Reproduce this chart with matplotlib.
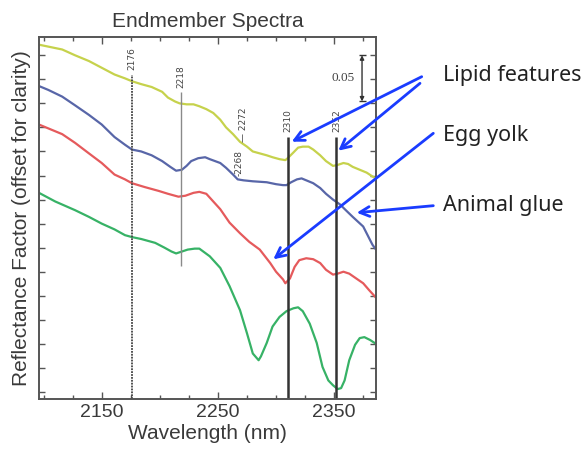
import matplotlib.pyplot as plt
from matplotlib.ticker import FixedLocator, MultipleLocator, NullFormatter

plt.rcParams['font.family'] = ['Liberation Sans', 'DejaVu Sans']

# wavelength (nm) / reflectance factor (offset)
wl_yellow = [2096, 2104, 2116, 2127, 2139, 2150, 2161, 2170, 2176, 2184, 2193, 2202, 2207,
             2213, 2217, 2223, 2229, 2234, 2240, 2246, 2252, 2257, 2263, 2269, 2275, 2280,
             2286, 2292, 2297, 2303, 2308, 2310, 2315, 2319, 2323, 2328, 2332, 2338, 2343,
             2349, 2353, 2358, 2362, 2366, 2372, 2378, 2383, 2386]
yellow = [0.361, 0.359, 0.356, 0.350, 0.344, 0.337, 0.330, 0.326, 0.323, 0.320, 0.317, 0.312, 0.306,
          0.302, 0.300, 0.299, 0.299, 0.297, 0.294, 0.290, 0.283, 0.275, 0.268, 0.260, 0.255, 0.250,
          0.248, 0.246, 0.244, 0.242, 0.241, 0.243, 0.249, 0.254, 0.255, 0.255, 0.252, 0.246, 0.240,
          0.235, 0.236, 0.238, 0.237, 0.234, 0.231, 0.228, 0.224, 0.222]

wl_blue = [2096, 2104, 2116, 2127, 2139, 2150, 2161, 2170, 2176, 2184, 2193, 2202, 2209,
           2214, 2219, 2223, 2227, 2233, 2239, 2243, 2252, 2257, 2263, 2267, 2272, 2280,
           2292, 2300, 2306, 2309, 2313, 2318, 2322, 2326, 2332, 2338, 2343, 2349, 2355,
           2360, 2366, 2375, 2383, 2386]
blue = [0.318, 0.314, 0.307, 0.298, 0.288, 0.278, 0.265, 0.257, 0.252, 0.250, 0.246, 0.240, 0.234,
        0.230, 0.231, 0.235, 0.240, 0.243, 0.244, 0.242, 0.238, 0.233, 0.226, 0.221, 0.220, 0.219,
        0.218, 0.216, 0.215, 0.215, 0.218, 0.221, 0.222, 0.220, 0.217, 0.212, 0.206, 0.200, 0.195,
        0.189, 0.182, 0.172, 0.153, 0.148]

wl_red = [2096, 2104, 2116, 2127, 2139, 2150, 2161, 2170, 2176, 2187, 2199, 2207, 2216,
          2222, 2229, 2234, 2240, 2243, 2252, 2260, 2269, 2277, 2286, 2295, 2300, 2306,
          2308, 2312, 2316, 2320, 2326, 2332, 2338, 2343, 2349, 2353, 2358, 2363, 2369,
          2375, 2380, 2386]
red = [0.278, 0.274, 0.268, 0.259, 0.248, 0.238, 0.226, 0.221, 0.217, 0.213, 0.209, 0.206, 0.203,
       0.204, 0.207, 0.208, 0.206, 0.202, 0.190, 0.176, 0.165, 0.156, 0.148, 0.134, 0.125, 0.117,
       0.113, 0.118, 0.130, 0.137, 0.139, 0.138, 0.134, 0.127, 0.122, 0.123, 0.125, 0.123, 0.118,
       0.113, 0.106, 0.098]

wl_green = [2096, 2110, 2127, 2139, 2150, 2161, 2170, 2176, 2184, 2196, 2204, 2210, 2214,
            2219, 2224, 2230, 2234, 2243, 2252, 2260, 2269, 2275, 2280, 2285, 2287, 2292,
            2297, 2303, 2309, 2315, 2319, 2323, 2329, 2335, 2340, 2345, 2349, 2353, 2356,
            2359, 2363, 2368, 2372, 2376, 2381, 2386]
green = [0.207, 0.198, 0.189, 0.182, 0.175, 0.169, 0.163, 0.161, 0.159, 0.155, 0.150, 0.146, 0.144,
         0.146, 0.148, 0.149, 0.149, 0.141, 0.129, 0.110, 0.085, 0.061, 0.040, 0.033, 0.037, 0.051,
         0.068, 0.078, 0.084, 0.087, 0.088, 0.084, 0.071, 0.051, 0.026, 0.012, 0.007, 0.003, 0.004,
         0.012, 0.033, 0.049, 0.056, 0.057, 0.054, 0.050]

features = [2176, 2218, 2310, 2352]
small_features = [2268, 2272]

fig = plt.figure(figsize=(5.87, 4.55), dpi=100)
ax = fig.add_axes([0.0664, 0.1231, 0.5741, 0.7956])
txt = '#3a3a3a'

for wl, vals, c in [(wl_yellow, yellow, '#c6d24c'), (wl_blue, blue, '#5866a8'),
                    (wl_red, red, '#e55a5c'), (wl_green, green, '#37b266')]:
    ax.plot(wl, vals, color=c, lw=1.6, solid_joinstyle='round', solid_capstyle='round')

ylo, yhi = -0.0073, 0.369
# feature lines
ax.vlines(features[0], ylo, 0.330, colors='#444444', lw=1.3, linestyles=(0, (1, 0.6)))
ax.vlines(features[1], 0.131, 0.312, colors='#8a8a8a', lw=1.0)
ax.vlines(features[2:], ylo, 0.265, colors='#333333', lw=1.8)
lab_y = [0.335, 0.316, 0.270, 0.270]
for f, yy in zip(features, lab_y):
    ax.text(f, yy, str(f), rotation=90, ha='center', va='bottom', fontsize=6.5,
            color='#444444', family='DejaVu Sans')
ax.text(small_features[1], 0.260, '\u2014 ' + str(small_features[1]), rotation=90,
        ha='center', va='bottom', fontsize=6.5, color='#444444', family='DejaVu Sans')
ax.text(small_features[0], 0.225, '-' + str(small_features[0]), rotation=90,
        ha='center', va='bottom', fontsize=6.5, color='#444444', family='DejaVu Sans')

# scale bar
ax.annotate('', xy=(2374, 0.350), xytext=(2374, 0.302),
            arrowprops=dict(arrowstyle='<|-|>', lw=1.0, color='#333333',
                            mutation_scale=6, shrinkA=0, shrinkB=0))
ax.hlines([0.350, 0.302], 2371, 2377, colors='#333333', lw=1.0)
ax.text(2368, 0.326, '0.05', ha='right', va='center', fontsize=9.5,
        family='Liberation Serif', color='#444444')

ax.set_xlim(2096, 2386)
ax.set_ylim(ylo, yhi)
ax.xaxis.set_major_locator(FixedLocator([2150, 2250, 2350]))
ax.xaxis.set_minor_locator(MultipleLocator(25))
ax.yaxis.set_major_locator(MultipleLocator(0.025))
ax.yaxis.set_major_formatter(NullFormatter())
ax.tick_params(which='both', direction='in', top=True, right=True, colors='#555555',
               labelcolor=txt, labelsize=14)
ax.tick_params(which='major', length=5, width=1)
ax.tick_params(which='minor', length=3, width=1)
ax.tick_params(axis='y', length=4)
for s in ax.spines.values():
    s.set_color('#555555')
    s.set_linewidth(1.4)

ax.set_title('Endmember Spectra', fontsize=15, color=txt, pad=7)
ax.set_xlabel('Wavelength (nm)', fontsize=15, color=txt, labelpad=2)
ax.set_ylabel('Reflectance Factor (offset for clarity)', fontsize=15, color=txt, labelpad=2)

# annotations on the right
blue_arrow = '#1a3cff'
notes = ['Lipid features', 'Egg yolk', 'Animal glue']
note_y = [75, 135, 206]
for n, py in zip(notes, note_y):
    fig.text(443 / 587, 1 - py / 455, n, ha='left', va='center', fontsize=15.5,
             family='Noto Sans', color='#222222')

aprops = dict(arrowstyle='->,head_length=0.7,head_width=0.35', color=blue_arrow, lw=2,
              shrinkA=0, shrinkB=0)
arrows = [((421.7, 76.7), (291.7, 141.7)),
          ((420.0, 83.3), (338.3, 150.7)),
          ((433.3, 133.3), (273.3, 259.3)),
          ((433.3, 205.7), (356.7, 212.7))]
for (x0, y0), (x1, y1) in arrows:
    ax.annotate('', xy=(x1 / 587, 1 - y1 / 455), xycoords='figure fraction',
                xytext=(x0 / 587, 1 - y0 / 455), textcoords='figure fraction',
                arrowprops=aprops, annotation_clip=False)

fig.savefig('out.png', dpi=100)
